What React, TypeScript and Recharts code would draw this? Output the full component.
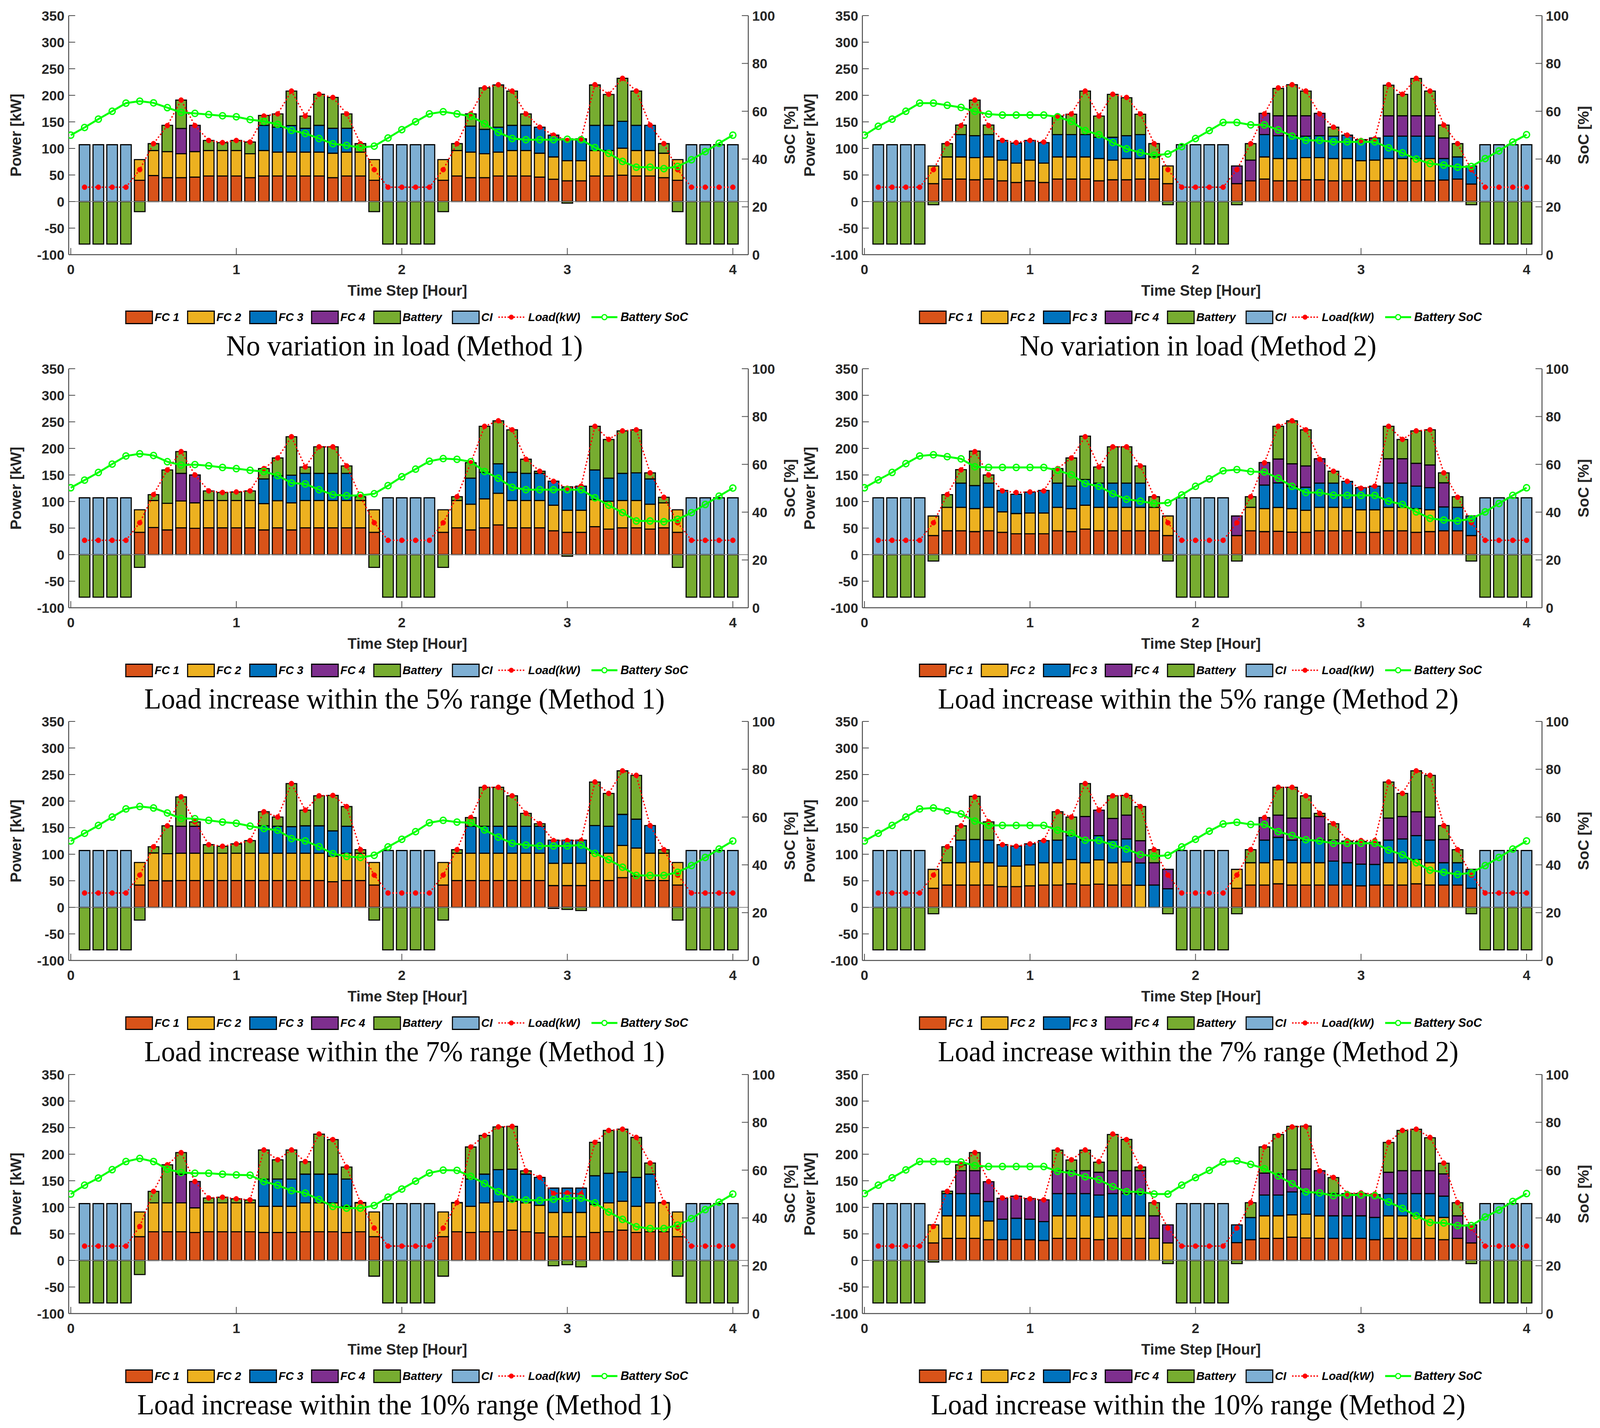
import React from 'react';
import { ComposedChart, Bar, Line, XAxis, YAxis, ReferenceLine } from 'recharts';

// ---------- axis / category definitions ----------
const hourTicks = [0, 12, 24, 36, 48];
const hourLabels = ['0', '1', '2', '3', '4'];
const powerTicks = [-100, -50, 0, 50, 100, 150, 200, 250, 300, 350];
const socTicks = [0, 20, 40, 60, 80, 100];
const seriesKeys = ['fc1', 'fc2', 'fc3', 'fc4', 'bat', 'ci'];
const seriesNames = ['FC 1', 'FC 2', 'FC 3', 'FC 4', 'Battery', 'CI'];
const seriesColors = ['#D95319', '#EDB120', '#0072BD', '#7E2F8E', '#77AC30', '#7EAFD3'];
const panelTitles = [
  'No variation in load (Method 1)', 'No variation in load (Method 2)',
  'Load increase within the 5% range (Method 1)', 'Load increase within the 5% range (Method 2)',
  'Load increase within the 7% range (Method 1)', 'Load increase within the 7% range (Method 2)',
  'Load increase within the 10% range (Method 1)', 'Load increase within the 10% range (Method 2)',
];

// ---------- shared CI power (kW), 48 steps ----------
const ciPower = [107, 107, 107, 107, 0, 0, 0, 0, 0, 0, 0, 0, 0, 0, 0, 0, 0, 0, 0, 0, 0, 0, 107, 107, 107, 107, 0, 0, 0, 0, 0, 0, 0, 0, 0, 0, 0, 0, 0, 0, 0, 0, 0, 0, 107, 107, 107, 107];

// ---------- load (kW) per scenario ----------
const loadNoVar = [27, 27, 27, 27, 60, 109, 143, 191, 143, 115, 111, 115, 112, 161, 165, 208, 161, 202, 196, 165, 109, 60, 27, 27, 27, 27, 60, 109, 165, 214, 220, 208, 165, 140, 125, 115, 118, 220, 202, 232, 208, 144, 109, 60, 27, 27, 27, 27];
const load5 = [27, 27, 27, 27, 60, 113, 159.5, 194, 150, 120, 117, 118, 120, 162, 182, 222, 165, 203, 203, 167, 109, 60, 27, 27, 27, 27, 60, 109, 173, 241.6, 252, 235, 179.6, 157, 138, 125, 129, 241.6, 217, 233, 235, 154, 108, 60, 27, 27, 27, 27];
const load7 = [27, 27, 27, 27, 60.7, 114, 153.5, 208, 161, 118, 115, 119.5, 125.7, 180, 170, 233, 183, 210, 210.7, 189.7, 108.6, 60.7, 27, 27, 27, 27, 60.7, 108.6, 169, 226, 226, 210, 177, 157.5, 125.7, 125.7, 125.7, 236, 214.5, 257, 248.5, 154, 108.6, 60.7, 27, 27, 27, 27];
const load10 = [27, 27, 27, 27, 64, 130, 180, 203, 148.6, 117.6, 119, 116, 114, 208, 189.5, 208, 186, 238, 227.5, 175.8, 109, 61, 27, 27, 27, 27, 61, 109, 213.6, 235.3, 251.4, 252.4, 168.6, 156.3, 126, 127, 125, 222.3, 244.7, 247.1, 231.6, 183.3, 109, 61, 27, 27, 27, 27];

// ---------- panel 1: no variation, method 1 ----------
const p1Fc1 = [0, 0, 0, 0, 40, 49, 45, 45, 46, 48, 48, 48, 45, 48, 48, 48, 48, 48, 45, 48, 48, 40, 0, 0, 0, 0, 40, 48, 45, 45, 48, 48, 48, 46, 42, 39, 39, 48, 48, 49.5, 48, 48, 45, 40, 0, 0, 0, 0];
const p1Fc2 = [0, 0, 0, 0, 39, 47, 49, 45, 48, 48, 48, 48, 45, 48, 45, 45, 45, 45, 46, 45, 45, 39, 0, 0, 0, 0, 39, 48, 48, 45, 45, 48, 48, 45, 42, 38, 38, 48, 48, 51, 48, 48, 46, 39, 0, 0, 0, 0];
const p1Fc3 = [0, 0, 0, 0, 0, 0, 0, 0, 0, 0, 0, 0, 0, 47.5, 47, 50, 45, 50.5, 47, 45, 0, 0, 0, 0, 0, 0, 0, 0, 49, 46, 47, 47.5, 47.5, 49, 41, 41, 41, 47.5, 47.5, 50.5, 47.5, 47.5, 0, 0, 0, 0, 0, 0];
const p1Fc4 = [0, 0, 0, 0, 0, 0, 0, 47.6, 49.5, 0, 0, 0, 0, 0, 0, 0, 0, 0, 0, 0, 0, 0, 0, 0, 0, 0, 0, 0, 0, 0, 0, 0, 0, 0, 0, 0, 0, 0, 0, 0, 0, 0, 0, 0, 0, 0, 0, 0];
const p1Bat = [-80, -80, -80, -80, -19, 13, 49.5, 53.4, 0, 19, 15, 19, 22, 18.5, 25, 65, 23, 58.5, 58, 27, 16, -19, -80, -80, -80, -80, -19, 13, 23, 78, 79.5, 64.5, 21.5, 0, 0, -3, 0, 76, 58, 81, 64.5, 0, 18, -19, -80, -80, -80, -80];
const p1Soc = [50, 53.2, 56.7, 60, 63.4, 64.2, 63.5, 61.5, 59.5, 59.1, 58.6, 58.1, 57.7, 56.5, 55.8, 54.5, 52, 50.7, 48.6, 46.4, 45.7, 44.8, 45.4, 48.8, 52.3, 55.6, 58.9, 59.8, 58.9, 57.9, 54.8, 51.2, 48.6, 48.1, 48.1, 48.1, 48.3, 48.1, 44.8, 42.4, 39, 36.6, 36.6, 36, 36.9, 39.7, 43.1, 46.6, 50];

// ---------- panel 2: no variation, method 2 ----------
const p2Fc1 = [0, 0, 0, 0, 33.7, 42.4, 42.4, 41, 42.4, 39, 36, 39, 36, 42.4, 42.4, 42.4, 39, 41, 41, 42.4, 42.4, 33.7, 0, 0, 0, 0, 33.7, 39, 42.4, 39, 39, 41, 41, 39, 39, 39, 39, 39, 39, 39, 39, 40.5, 42.4, 33, 0, 0, 0, 0];
const p2Fc2 = [0, 0, 0, 0, 33.3, 41.6, 41.6, 41.6, 41.6, 39, 36.4, 39, 36.4, 41.6, 41.6, 41.6, 42, 37, 40, 38.6, 41.6, 33.3, 0, 0, 0, 0, 0, 0, 41.6, 42, 42, 41.6, 41.6, 42, 42, 38, 39, 42, 42, 42, 42, 0, 0, 0, 0, 0, 0, 0];
const p2Fc3 = [0, 0, 0, 0, 0, 0, 42, 41.4, 42, 37, 37.6, 37, 38.6, 42, 42, 42, 40, 43, 43, 45, 0, 0, 0, 0, 0, 0, 0, 0, 42, 43, 43, 40.4, 41.4, 42, 44, 39.6, 41.7, 42, 42, 42, 42, 40.5, 41.6, 34, 0, 0, 0, 0];
const p2Fc4 = [0, 0, 0, 0, 0, 0, 0, 0, 0, 0, 0, 0, 0, 0, 0, 0, 0, 0, 0, 0, 0, 0, 0, 0, 0, 0, 33.3, 39, 40, 37.5, 37.5, 38.5, 42, 0, 0, 0, 0, 38.5, 38.5, 38.5, 38.5, 38.7, 0, 0, 0, 0, 0, 0];
const p2Bat = [-80, -80, -80, -80, -6, 25, 18, 67, 18, 0, 0, 0, 0, 35, 38.5, 82, 40, 80.7, 71.5, 38.5, 25, -6, -80, -80, -80, -80, -6, 31, 0, 51.5, 58.5, 46.5, 0, 17, 0, 0, 0, 57.5, 40.2, 70.2, 46.5, 24.3, 25, -6, -80, -80, -80, -80];
const p2Soc = [50, 53.7, 56.7, 60, 63.4, 63.4, 62.5, 61.6, 59.9, 58.8, 58.4, 58.4, 58.4, 58.4, 57.7, 55.7, 51.9, 50.2, 46.9, 44.3, 42.7, 41.6, 42.1, 45.2, 48.6, 51.9, 55.3, 55.3, 54.3, 54.3, 52.2, 49.6, 47.8, 47.8, 47.2, 47.2, 47.2, 47.2, 44.7, 42.6, 40, 38.1, 37.5, 36.6, 36.9, 40.2, 43.4, 47.1, 50.2];

// ---------- panel 3: 5%, method 1 ----------
const p3Fc1 = [0, 0, 0, 0, 42, 51, 46.5, 50.5, 49.5, 50.5, 50.5, 50.5, 50.5, 46.5, 50.5, 46.5, 50.5, 50.5, 50.5, 50.5, 50.5, 42, 0, 0, 0, 0, 42, 50.5, 46.5, 50.5, 56, 50.5, 50.5, 50.5, 45, 42, 42, 52.6, 48, 50.5, 50.5, 48, 50.5, 42, 0, 0, 0, 0];
const p3Fc2 = [0, 0, 0, 0, 42.5, 51, 50.1, 50.5, 48, 51.5, 51.5, 51.5, 51.5, 49.5, 51.1, 51, 51.5, 51.5, 51.5, 51.5, 51.5, 42.5, 0, 0, 0, 0, 42.5, 51.5, 48.5, 54.5, 59.5, 51.5, 51.5, 51.5, 48, 41.6, 41.6, 51.1, 52.7, 51.5, 51.5, 47, 47, 42.5, 0, 0, 0, 0];
const p3Fc3 = [0, 0, 0, 0, 0, 0, 0, 0, 0, 0, 0, 0, 0, 46.5, 47, 52.1, 51, 51, 51, 51, 0, 0, 0, 0, 0, 0, 0, 0, 49, 50, 55.5, 53, 51, 51, 45.4, 44, 45.4, 55.8, 43.3, 51, 52, 47.5, 0, 0, 0, 0, 0, 0];
const p3Fc4 = [0, 0, 0, 0, 0, 0, 0, 52, 52.5, 0, 0, 0, 0, 0, 0, 0, 0, 0, 0, 0, 0, 0, 0, 0, 0, 0, 0, 0, 0, 0, 0, 0, 0, 0, 0, 0, 0, 0, 0, 0, 0, 0, 0, 0, 0, 0, 0, 0];
const p3Bat = [-80, -80, -80, -80, -24, 11, 62.9, 41, 0, 18, 15, 16, 18, 19.5, 33.4, 72.4, 12, 50, 50, 14, 7, -24, -80, -80, -80, -80, -24, 7, 29, 86.6, 81, 80, 26.6, 4, 0, -3, 0, 82.1, 72.8, 80, 81, 11.5, 10.5, -24, -80, -80, -80, -80];
const p3Soc = [50.2, 53.4, 56.6, 60.1, 63.5, 64.4, 63.7, 61.1, 59.7, 59.9, 59.4, 58.7, 58.2, 57.5, 57, 55.3, 52.2, 51.8, 49.4, 47.3, 46.9, 47, 47.7, 51.1, 54.8, 58, 61.3, 62.4, 62.1, 61.1, 57, 54.2, 50.4, 49.4, 49.4, 49.4, 49.4, 49.4, 46, 42.9, 39.8, 36.3, 36.3, 36, 37, 39.8, 43.2, 46.7, 50.1];

// ---------- panel 4: 5%, method 2 ----------
const p4Fc1 = [0, 0, 0, 0, 36, 45, 45, 43.4, 45, 42, 39.3, 39.3, 39.3, 45, 43.4, 48, 45, 45, 45, 45, 45, 36, 0, 0, 0, 0, 36, 45, 43.4, 44, 42.4, 42, 45, 45, 45, 42, 42, 45, 45, 42, 43.4, 45, 45, 36, 0, 0, 0, 0];
const p4Fc2 = [0, 0, 0, 0, 36.8, 44, 44, 43.3, 44, 38.5, 38.1, 39.1, 39.1, 44, 43.3, 45, 44, 44, 44, 44, 44, 36.8, 0, 0, 0, 0, 0, 44, 43.3, 44.9, 44.3, 41.6, 44, 44, 44, 42.5, 42.5, 44, 44, 44.7, 41.1, 0, 0, 0, 0, 0, 0, 0];
const p4Fc3 = [0, 0, 0, 0, 0, 0, 45.7, 43.3, 45.7, 40.3, 36.3, 39.3, 42.4, 45.7, 42.3, 48.5, 45.7, 45.7, 45.7, 45.7, 0, 0, 0, 0, 0, 0, 0, 0, 44.3, 46.1, 41.8, 43.4, 45.7, 45.7, 49, 41.5, 44.5, 45.7, 45.7, 42.3, 41.5, 44.8, 44, 36.8, 0, 0, 0, 0];
const p4Fc4 = [0, 0, 0, 0, 0, 0, 0, 0, 0, 0, 0, 0, 0, 0, 0, 0, 0, 0, 0, 0, 0, 0, 0, 0, 0, 0, 36.8, 0, 42.4, 45, 42.5, 40, 45.8, 0, 0, 0, 0, 45.8, 45.8, 43, 42.8, 45.5, 0, 0, 0, 0, 0, 0];
const p4Bat = [-80, -80, -80, -80, -12, 24, 25.3, 65, 15.3, 0, 0, 0, 0, 27.3, 53, 81.5, 30.3, 68.3, 68.3, 32.3, 20, -12, -80, -80, -80, -80, -12, 20, 0, 61.6, 81, 68, 0, 22.3, 0, 0, 0, 61.1, 36.3, 61, 66.2, 18.7, 20, -12, -80, -80, -80, -80];
const p4Soc = [50.2, 53.5, 56.6, 60.3, 63.5, 64, 63.2, 62.3, 59, 58.7, 58.7, 58.7, 58.7, 58.7, 57.5, 55.6, 52, 50.8, 47.7, 45.4, 44.6, 43.6, 43.9, 47.2, 50.8, 53.9, 57.3, 57.8, 57, 56.8, 54.2, 50.8, 48.2, 48.2, 47.1, 47, 47, 47, 44.6, 43.2, 40.1, 37.4, 36.7, 36.3, 37.2, 40.1, 43.6, 47, 50.2];

// ---------- panel 5: 7%, method 1 ----------
const p5Fc1 = [0, 0, 0, 0, 42, 50.5, 50, 50.5, 50.5, 50.5, 50.5, 50.5, 50.5, 50.5, 50.5, 50.5, 50.5, 50.5, 48.3, 50.5, 50.5, 42, 0, 0, 0, 0, 42, 50.5, 50.5, 50.5, 50.5, 50.5, 50.5, 50.5, 41, 41, 41, 50.5, 50.5, 56, 59, 50.5, 50.5, 42, 0, 0, 0, 0];
const p5Fc2 = [0, 0, 0, 0, 42.5, 51.9, 51, 51.5, 51.5, 51.5, 51.5, 51.5, 51.5, 51.5, 51.5, 51.5, 51.5, 51.5, 48, 51.5, 51.5, 42.5, 0, 0, 0, 0, 42.5, 51.5, 51.5, 51.5, 51.5, 51.5, 51.5, 51.5, 42, 42, 42, 51.5, 51.5, 60.4, 52.7, 51.5, 51.5, 42.5, 0, 0, 0, 0];
const p5Fc3 = [0, 0, 0, 0, 0, 0, 0, 0, 0, 0, 0, 0, 0, 51.5, 50.6, 50, 51.5, 51.5, 47.7, 50.6, 0, 0, 0, 0, 0, 0, 0, 0, 50.6, 50.6, 50.6, 50.6, 50.6, 50.6, 43.6, 43.6, 43.6, 52, 50.6, 58.6, 54.3, 52, 0, 0, 0, 0, 0, 0];
const p5Fc4 = [0, 0, 0, 0, 0, 0, 0, 50.6, 50.6, 0, 0, 0, 0, 0, 0, 0, 0, 0, 0, 0, 0, 0, 0, 0, 0, 0, 0, 0, 0, 0, 0, 0, 0, 0, 0, 0, 0, 0, 0, 0, 0, 0, 0, 0, 0, 0, 0, 0];
const p5Bat = [-80, -80, -80, -80, -24, 11.6, 52.5, 55.4, 8.4, 16, 13, 17.5, 23.7, 26.5, 17.4, 81, 29.5, 56.5, 66.7, 37.1, 6.6, -24, -80, -80, -80, -80, -24, 6.6, 16.4, 73.4, 73.4, 57.4, 24.4, 4.9, -2, -4, -6, 82, 61.9, 82, 82.5, 0, 6.6, -24, -80, -80, -80, -80];
const p5Soc = [50, 53.2, 56.5, 60, 63.4, 64.4, 63.8, 61.7, 59.4, 59.3, 58.6, 57.9, 57.4, 56.2, 55.2, 54.5, 51, 50, 47.6, 44.7, 43.5, 43.1, 44, 47.5, 50.7, 53.9, 57.6, 58.6, 57.9, 57.6, 54.6, 51.6, 49, 48.3, 47.9, 47.9, 47.9, 48.3, 44.8, 42.2, 39, 35.6, 35.6, 35.6, 36.9, 39.7, 43.1, 46.6, 50];

// ---------- panel 6: 7%, method 2 ----------
const p6Fc1 = [0, 0, 0, 0, 36, 42, 42, 42, 42, 39, 39, 40.5, 42, 42, 44.3, 42, 43.6, 42, 42, 0, 0, 0, 0, 0, 0, 0, 36, 42, 42, 44.3, 42, 42, 42, 42, 42, 40.5, 42, 42, 42, 44.3, 42, 42, 42, 36, 0, 0, 0, 0];
const p6Fc2 = [0, 0, 0, 0, 35.5, 42, 42, 43.4, 42, 38.7, 38.7, 39.5, 42, 42, 45.7, 42, 45.8, 42, 43.4, 41.5, 0, 0, 0, 0, 0, 0, 35.5, 42, 42, 45.1, 42, 42, 42, 0, 0, 0, 0, 42, 42, 45.7, 42, 0, 0, 0, 0, 0, 0, 0];
const p6Fc3 = [0, 0, 0, 0, 0, 0, 42.6, 42.4, 42.6, 40.3, 37.7, 39.5, 41.7, 42.6, 45, 42.6, 45.6, 42.6, 43.4, 42.1, 42, 35, 0, 0, 0, 0, 0, 0, 42.6, 42.4, 42.6, 42.6, 42.6, 45, 42, 40.9, 38.8, 42.6, 44.8, 45, 42.6, 42, 42, 35.5, 0, 0, 0, 0];
const p6Fc4 = [0, 0, 0, 0, 0, 0, 0, 0, 0, 0, 0, 0, 0, 0, 0, 44.4, 48, 40.8, 44.8, 41.8, 42, 36.5, 0, 0, 0, 0, 0, 0, 42.4, 41.8, 41.4, 41.4, 44.4, 40, 40.7, 42.6, 41.8, 41.4, 42.2, 45, 43.4, 43.8, 0, 0, 0, 0, 0, 0];
const p6Bat = [-80, -80, -80, -80, -12, 30, 26.9, 81.2, 34.4, 0, 0, 0, 0, 53.4, 35, 62, 0, 42.6, 37.1, 64.3, 24.6, -12, -80, -80, -80, -80, -12, 24.6, 0, 52.4, 58, 42, 6, 30.5, 0, 0, 0, 68, 43.5, 77, 78.5, 26.2, 24.6, -12, -80, -80, -80, -80];
const p6Soc = [50, 53.2, 56.5, 60, 63.4, 63.8, 62.6, 61.3, 58.3, 56.5, 56.5, 56.5, 56.5, 56.5, 54.5, 53.2, 50.3, 50.2, 48.3, 46.6, 44.3, 43.6, 44, 47.5, 50.7, 54.1, 57.1, 57.8, 56.9, 56.9, 53.9, 52.3, 50.5, 50, 49, 49, 49, 49, 46.2, 44.2, 40.9, 37.8, 36.9, 36, 36.7, 39.7, 43.1, 46.6, 50];

// ---------- panel 7: 10%, method 1 ----------
const p7Fc1 = [0, 0, 0, 0, 44.8, 54, 54, 54, 52.6, 54, 54, 54, 54, 52.6, 52.6, 52.6, 54, 54, 54, 52.6, 54, 44.8, 0, 0, 0, 0, 44.8, 54, 52.6, 54, 54, 57, 54, 52, 44.8, 44.8, 44.8, 52.6, 54, 57, 52.6, 54, 54, 44.8, 0, 0, 0, 0];
const p7Fc2 = [0, 0, 0, 0, 46.5, 54.3, 54.3, 54.3, 46.4, 54.3, 54.3, 54.3, 54.3, 49.4, 49.4, 49.4, 54.3, 54.3, 54.3, 49.4, 54.3, 46.5, 0, 0, 0, 0, 46.5, 54.3, 49.4, 54.3, 56, 54.4, 54.3, 51.7, 45.6, 45.6, 45.6, 52.6, 54.3, 54.4, 49.4, 54.3, 54.3, 46.5, 0, 0, 0, 0];
const p7Fc3 = [0, 0, 0, 0, 0, 0, 0, 0, 0, 0, 0, 0, 0, 51, 51.2, 51.2, 54.2, 54.2, 54.2, 51.2, 0, 0, 0, 0, 0, 0, 0, 0, 51.2, 54.2, 60.8, 60.4, 54.2, 52.6, 45.8, 45.8, 45.8, 54.2, 55.7, 55.2, 54.3, 54.2, 0, 0, 0, 0, 0, 0];
const p7Fc4 = [0, 0, 0, 0, 0, 0, 0, 54, 49.6, 0, 0, 0, 0, 0, 0, 0, 0, 0, 0, 0, 0, 0, 0, 0, 0, 0, 0, 0, 0, 0, 0, 0, 0, 0, 0, 0, 0, 0, 0, 0, 0, 0, 0, 0, 0, 0, 0, 0];
const p7Bat = [-80, -80, -80, -80, -26.5, 21.7, 71.7, 40.7, 0, 9.3, 10.7, 7.7, 5.6, 55, 36.3, 54.8, 23.4, 75.3, 65, 22.6, 0.7, -29.6, -80, -80, -80, -80, -29.6, 0.7, 60.4, 72.8, 80.6, 80.6, 6.1, 0, -10, -8, -12, 62.9, 80.7, 80.5, 75.3, 20.8, 0.7, -29.6, -80, -80, -80, -80];
const p7Soc = [50, 53.7, 56.7, 60.2, 63.6, 64.9, 63.6, 60.4, 59, 58.7, 58.7, 58.3, 58, 57.9, 55.2, 53.7, 51.4, 50.4, 47.7, 44.8, 44.1, 44.1, 45.2, 48.7, 52.1, 55.4, 58.8, 60, 59.9, 57.4, 54.4, 51, 47.8, 47.5, 47.3, 47.8, 48.2, 48.3, 46.3, 42.5, 39.4, 36.3, 35.6, 35.6, 37, 39.7, 43.5, 46.6, 50];

// ---------- panel 8: 10%, method 2 ----------
const p8Fc1 = [0, 0, 0, 0, 33, 41.6, 41.6, 41.6, 39, 39, 39.8, 39, 37.6, 41.6, 41.6, 41.6, 39, 41.6, 41.6, 41.6, 0, 0, 0, 0, 0, 0, 33.5, 39, 41.6, 41.6, 43.8, 42.2, 41.6, 41.6, 41.6, 41.6, 39, 41.6, 41.6, 41.6, 41.6, 39, 41.6, 33, 0, 0, 0, 0];
const p8Fc2 = [0, 0, 0, 0, 34, 42.4, 42.4, 42.4, 35.4, 0, 0, 0, 0, 42.4, 42.4, 42.4, 42.7, 42.4, 42.4, 42.4, 41.6, 33, 0, 0, 0, 0, 0, 0, 42.4, 42.4, 42.2, 44.8, 42.4, 0, 0, 0, 0, 42.4, 42.4, 42.4, 42.4, 42, 0, 0, 0, 0, 0, 0];
const p8Fc3 = [0, 0, 0, 0, 0, 41.8, 41.8, 41.8, 36.6, 38.7, 39.6, 38.7, 35.4, 41.8, 41.8, 41.8, 41.3, 41.8, 41.8, 41.8, 0, 0, 0, 0, 0, 0, 33.5, 41.8, 39, 39, 42.9, 42.5, 41.8, 42.4, 42.4, 42.4, 42, 41.8, 41.8, 41.8, 41.8, 40, 0, 0, 0, 0, 0, 0];
const p8Fc4 = [0, 0, 0, 0, 0, 0, 43.2, 43.2, 37.3, 39.3, 41.6, 38.8, 41, 43.2, 43.2, 43.2, 43, 43.2, 43.2, 43.2, 42.4, 34, 0, 0, 0, 0, 0, 0, 41.4, 40, 41.8, 42.7, 43.2, 41.8, 41.8, 41.8, 43, 40.2, 43.2, 43.2, 43.2, 42, 42.4, 34, 0, 0, 0, 0];
const p8Bat = [-80, -80, -80, -80, -3, 4.6, 11, 34, 0, 0, 0, 0, 0, 38.7, 20, 38.7, 19, 68, 58.8, 6.8, 24.7, -6, -80, -80, -80, -80, -6, 27.9, 49.4, 74, 81.8, 80.8, 0, 30.2, 0, 0, 0, 56.2, 75.8, 78, 62, 20, 24.7, -6, -80, -80, -80, -80];
const p8Soc = [50.2, 53.7, 56.8, 60.1, 63.6, 63.6, 63.6, 63.4, 61.9, 61.5, 61.5, 61.5, 61.5, 61.5, 59.5, 58.8, 57.2, 56, 53.1, 51, 50.9, 50, 50, 53.7, 56.9, 59.9, 63.4, 63.9, 62.4, 60.6, 57.6, 54.3, 50.9, 50.5, 49.3, 49.6, 49.6, 49.3, 46.7, 44, 40.9, 38.1, 37.9, 36.8, 36.8, 40.4, 43.3, 46.9, 50.2];

// ---------- panel table built from the arrays above ----------
const panels = [
  { fc1: p1Fc1, fc2: p1Fc2, fc3: p1Fc3, fc4: p1Fc4, bat: p1Bat, soc: p1Soc, load: loadNoVar },
  { fc1: p2Fc1, fc2: p2Fc2, fc3: p2Fc3, fc4: p2Fc4, bat: p2Bat, soc: p2Soc, load: loadNoVar },
  { fc1: p3Fc1, fc2: p3Fc2, fc3: p3Fc3, fc4: p3Fc4, bat: p3Bat, soc: p3Soc, load: load5 },
  { fc1: p4Fc1, fc2: p4Fc2, fc3: p4Fc3, fc4: p4Fc4, bat: p4Bat, soc: p4Soc, load: load5 },
  { fc1: p5Fc1, fc2: p5Fc2, fc3: p5Fc3, fc4: p5Fc4, bat: p5Bat, soc: p5Soc, load: load7 },
  { fc1: p6Fc1, fc2: p6Fc2, fc3: p6Fc3, fc4: p6Fc4, bat: p6Bat, soc: p6Soc, load: load7 },
  { fc1: p7Fc1, fc2: p7Fc2, fc3: p7Fc3, fc4: p7Fc4, bat: p7Bat, soc: p7Soc, load: load10 },
  { fc1: p8Fc1, fc2: p8Fc2, fc3: p8Fc3, fc4: p8Fc4, bat: p8Bat, soc: p8Soc, load: load10 },
];

function buildRows(p: any) {
  return p.soc.map((s: number, i: number) => {
    const k = i - 1;
    const has = k >= 0;
    return {
      step: i,
      fc1: has ? p.fc1[k] : null,
      fc2: has ? p.fc2[k] : null,
      fc3: has ? p.fc3[k] : null,
      fc4: has ? p.fc4[k] : null,
      bat: has ? p.bat[k] : null,
      ci: has ? ciPower[k] : null,
      load: has ? p.load[k] : null,
      soc: s,
    };
  });
}

// ---------- layout / style ----------
const SANS = '"Liberation Sans", Arial, Helvetica, sans-serif';
const SERIF = '"Liberation Serif", "Times New Roman", serif';
const AXIS = '#4a4a4a';
const TEXT = '#262626';
const PAGE_W = 4193;
const PAGE_H = 3656;
const VISIBLE_W = 4096; // width actually captured by the screenshot
const CHART_W = 2096;
const CHART_H = 780;
const COL_X = [0, 2080];
const ROW_Y = [0, 904, 1807, 2711];
const PLOT_LEFT = 180;
const PLOT_RIGHT = 1961;
const PLOT_TOP = 40;
const PLOT_BOTTOM = 652;
const PLOT_MID_Y = (PLOT_TOP + PLOT_BOTTOM) / 2;
const PLOT_MID_X = (PLOT_LEFT + PLOT_RIGHT) / 2;
const X_DOMAIN = [-0.152, 49.12];

const tickStyle = { fill: TEXT, fontSize: 36, fontWeight: 700, fontFamily: SANS };

const powerLabel = () => (
  <text x={42} y={PLOT_MID_Y} transform={`rotate(-90 42 ${PLOT_MID_Y})`} textAnchor="middle" dominantBaseline="central"
    style={{ fontSize: 39, fontWeight: 700, fontFamily: SANS, fill: TEXT }}>Power [kW]</text>
);
const socLabel = () => (
  <text x={2070} y={PLOT_MID_Y} transform={`rotate(-90 2070 ${PLOT_MID_Y})`} textAnchor="middle" dominantBaseline="central"
    style={{ fontSize: 39, fontWeight: 700, fontFamily: SANS, fill: TEXT }}>SoC [%]</text>
);
const timeLabel = () => (
  <text x={PLOT_MID_X - 3} y={757} textAnchor="middle"
    style={{ fontSize: 39, fontWeight: 700, fontFamily: SANS, fill: TEXT }}>Time Step [Hour]</text>
);

const legendLefts = [328, 490, 653, 815, 978, 1184];
const LEGEND_Y = 812;

function LegendRow() {
  const font = { fontFamily: SANS, fontSize: 30, fontWeight: 700, fontStyle: 'italic', color: '#000', lineHeight: '34px', whiteSpace: 'nowrap' as const };
  return (
    <>
      {seriesNames.map((name, j) => (
        <div key={name} style={{ position: 'absolute', left: legendLefts[j], top: LEGEND_Y - 17, height: 34, display: 'flex', alignItems: 'center' }}>
          <svg width={73} height={35} style={{ display: 'block' }}>
            <rect x={1.5} y={1.5} width={70} height={32} fill={seriesColors[j]} stroke="#000" strokeWidth={3} />
          </svg>
          <span style={{ ...font, marginLeft: 4 }}>{name}</span>
        </div>
      ))}
      <div style={{ position: 'absolute', left: 1304, top: LEGEND_Y - 17, height: 34, display: 'flex', alignItems: 'center' }}>
        <svg width={72} height={34} style={{ display: 'block' }}>
          <line x1={2} y1={17} x2={70} y2={17} stroke="#ff0000" strokeWidth={3.5} strokeDasharray="4 4" />
          <circle cx={36} cy={17} r={6.5} fill="#ff0000" />
        </svg>
        <span style={{ ...font, marginLeft: 8 }}>Load(kW)</span>
      </div>
      <div style={{ position: 'absolute', left: 1548, top: LEGEND_Y - 17, height: 34, display: 'flex', alignItems: 'center' }}>
        <svg width={72} height={34} style={{ display: 'block' }}>
          <line x1={2} y1={17} x2={70} y2={17} stroke="#00ff00" strokeWidth={5} />
          <circle cx={36} cy={17} r={6.5} fill="#ffffff" stroke="#00ff00" strokeWidth={3} />
        </svg>
        <span style={{ ...font, marginLeft: 6, fontSize: 31 }}>Battery SoC</span>
      </div>
    </>
  );
}

function Panel({ index }: { index: number }) {
  const p = panels[index];
  const rows = buildRows(p);
  const left = COL_X[index % 2];
  const top = ROW_Y[Math.floor(index / 2)];
  return (
    <div style={{ position: 'absolute', left, top, width: CHART_W, height: 900 }}>
      <div style={{ position: 'absolute', left: 0, top: 0 }}>
        <ComposedChart width={CHART_W} height={CHART_H} data={rows} stackOffset="sign" barSize={28}
          margin={{ top: PLOT_TOP, right: 0, bottom: 0, left: 0 }}>
          <XAxis dataKey="step" type="number" domain={X_DOMAIN} allowDataOverflow ticks={hourTicks} interval={0}
            tickFormatter={(v: number) => hourLabels[hourTicks.indexOf(v)]}
            height={128} tickSize={-17} tickMargin={41}
            axisLine={{ stroke: AXIS, strokeWidth: 2.5 }} tickLine={{ stroke: AXIS, strokeWidth: 2 }}
            tick={tickStyle} label={timeLabel} />
          <XAxis xAxisId="top" orientation="top" dataKey="step" type="number" domain={X_DOMAIN} allowDataOverflow
            ticks={hourTicks} interval={0} tickFormatter={() => ''} height={0} tickSize={-17} tickMargin={0}
            axisLine={{ stroke: AXIS, strokeWidth: 2.5 }} tickLine={{ stroke: AXIS, strokeWidth: 2 }} />
          <YAxis yAxisId="p" type="number" domain={[-100, 350]} ticks={powerTicks} interval={0} allowDataOverflow
            width={PLOT_LEFT} tickSize={-17} tickMargin={28}
            axisLine={{ stroke: AXIS, strokeWidth: 2.5 }} tickLine={{ stroke: AXIS, strokeWidth: 2 }}
            tick={tickStyle} label={powerLabel} />
          <YAxis yAxisId="s" orientation="right" type="number" domain={[0, 100]} ticks={socTicks} interval={0} allowDataOverflow
            width={CHART_W - PLOT_RIGHT} tickSize={-17} tickMargin={27}
            axisLine={{ stroke: AXIS, strokeWidth: 2.5 }} tickLine={{ stroke: AXIS, strokeWidth: 2 }}
            tick={tickStyle} label={socLabel} />
          {seriesKeys.map((k, j) => (
            <Bar key={k} yAxisId="p" dataKey={k} name={seriesNames[j]} stackId="pw" fill={seriesColors[j]}
              stroke="#000" strokeWidth={2.8} isAnimationActive={false} />
          ))}
          <ReferenceLine yAxisId="p" y={0} stroke="#8a8a8a" strokeWidth={2} />
          <Line yAxisId="p" dataKey="load" name="Load(kW)" type="linear" stroke="#ff0000" strokeWidth={3.5}
            strokeDasharray="4 5" dot={{ r: 6.5, fill: '#ff0000', stroke: '#ff0000', strokeWidth: 1, strokeDasharray: 'none' }}
            activeDot={false} isAnimationActive={false} />
          <Line yAxisId="s" dataKey="soc" name="Battery SoC" type="linear" stroke="#00ff00" strokeWidth={5}
            dot={{ r: 8, fill: 'none', stroke: '#00ff00', strokeWidth: 3.5 }}
            activeDot={false} isAnimationActive={false} />
        </ComposedChart>
      </div>
      <LegendRow />
      <div style={{ position: 'absolute', left: 60, top: 849, width: 2000, textAlign: 'center', fontFamily: SERIF, fontSize: 73, lineHeight: '73px', color: '#000', whiteSpace: 'nowrap' }}>
        {panelTitles[index]}
      </div>
    </div>
  );
}

export default function App() {
  return (
    <div style={{ position: 'absolute', left: 0, top: 0, width: VISIBLE_W, height: PAGE_H, background: '#ffffff', overflow: 'hidden' }}>
      <div style={{ position: 'absolute', left: 0, top: 0, width: PAGE_W, height: PAGE_H, transform: `scaleX(${VISIBLE_W / PAGE_W})`, transformOrigin: '0 0' }}>
        {panels.map((_, i) => (
          <Panel key={i} index={i} />
        ))}
      </div>
    </div>
  );
}
